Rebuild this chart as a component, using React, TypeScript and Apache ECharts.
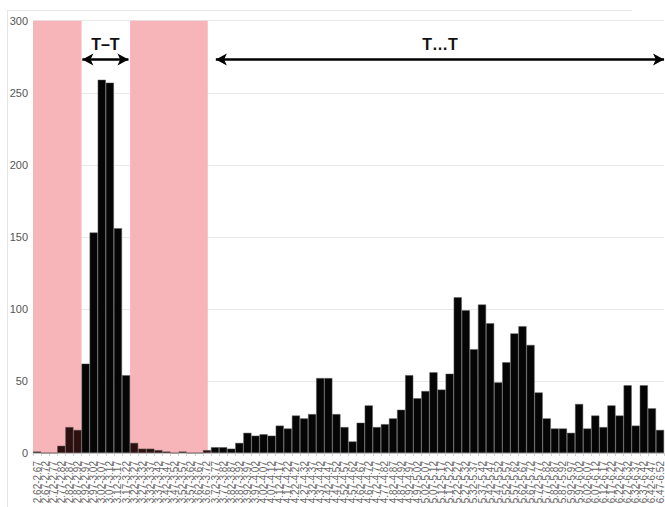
import React, { useEffect, useRef } from "react";
import * as echarts from "echarts";

// Histogram bins (width 0.05)
const categories: string[] = [
  "2.62-2.67", "2.67-2.72", "2.72-2.77", "2.77-2.82", "2.82-2.87", "2.87-2.92",
  "2.92-2.97", "2.97-3.02", "3.02-3.07", "3.07-3.12", "3.12-3.17", "3.17-3.22",
  "3.22-3.27", "3.27-3.32", "3.32-3.37", "3.37-3.42", "3.42-3.47", "3.47-3.52",
  "3.52-3.57", "3.57-3.62", "3.62-3.67", "3.67-3.72", "3.72-3.77", "3.77-3.82",
  "3.82-3.87", "3.87-3.92", "3.92-3.97", "3.97-4.02", "4.02-4.07", "4.07-4.12",
  "4.12-4.17", "4.17-4.22", "4.22-4.27", "4.27-4.32", "4.32-4.37", "4.37-4.42",
  "4.42-4.47", "4.47-4.52", "4.52-4.57", "4.57-4.62", "4.62-4.67", "4.67-4.72",
  "4.72-4.77", "4.77-4.82", "4.82-4.87", "4.87-4.92", "4.92-4.97", "4.97-5.02",
  "5.02-5.07", "5.07-5.12", "5.12-5.17", "5.17-5.22", "5.22-5.27", "5.27-5.32",
  "5.32-5.37", "5.37-5.42", "5.42-5.47", "5.47-5.52", "5.52-5.57", "5.57-5.62",
  "5.62-5.67", "5.67-5.72", "5.72-5.77", "5.77-5.82", "5.82-5.87", "5.87-5.92",
  "5.92-5.97", "5.97-6.02", "6.02-6.07", "6.07-6.12", "6.12-6.17", "6.17-6.22",
  "6.22-6.27", "6.27-6.32", "6.32-6.37", "6.37-6.42", "6.42-6.47", "6.47-6.52",
];

const counts: number[] = [
  1, 0, 0, 5, 18, 16, 62, 153, 259, 257, 156, 54,
  7, 3, 3, 2, 1, 0, 1, 0, 0, 2, 4, 4, 3, 7,
  14, 12, 13, 12, 19, 17, 26, 24, 27, 52, 52, 27,
  18, 8, 21, 33, 18, 20, 24, 30, 54, 38, 43, 56, 44, 55,
  108, 99, 72, 103, 90, 49, 63, 83, 88, 75, 42, 24,
  17, 17, 14, 34, 17, 26, 18, 33, 26, 47, 19, 47, 31, 16,
];

const yTicks: number[] = [0, 50, 100, 150, 200, 250, 300];

// Shaded (excluded) ranges on the continuous value scale
const shadedRanges: [number, number][] = [
  [2.62, 2.92],
  [3.22, 3.7],
];

// Double-headed range arrows: from, to, level, label
const rangeFrom: number[] = [2.925, 3.75];
const rangeTo: number[] = [3.21, 6.52];
const rangeLevel: number[] = [273, 273];
const rangeLabels: string[] = ["T–T", "T…T"];

const xMin = 2.62;
const xMax = 6.52;

function binCenter(cat: string): number {
  const [lo, hi] = cat.split("-").map(parseFloat);
  return (lo + hi) / 2;
}

function inShaded(v: number): boolean {
  return shadedRanges.some(([a, b]) => v >= a && v <= b);
}

export default function App() {
  const ref = useRef<HTMLDivElement>(null);

  useEffect(() => {
    if (!ref.current) return;
    const chart = echarts.init(ref.current, undefined, { renderer: "svg" });

    const barData = counts.map((v, i) => ({
      value: v,
      itemStyle: {
        color: inShaded(binCenter(categories[i])) ? "#2c1010" : "#050505",
      },
    }));

    chart.setOption({
      animation: false,
      backgroundColor: "#ffffff",
      grid: { left: 33, right: 0, top: 20.7, bottom: 54, containLabel: false },
      xAxis: [
        {
          type: "category",
          data: categories,
          boundaryGap: true,
          offset: 5,
          axisLine: { show: true, lineStyle: { color: "#cfcfcf", width: 1 } },
          axisTick: { show: true, length: 3, lineStyle: { color: "#cfcfcf" } },
          axisLabel: {
            rotate: 90,
            interval: 0,
            fontSize: 10,
            color: "#666",
            margin: 3,
            fontFamily: "Liberation Sans, Arial, sans-serif",
          },
          splitLine: { show: false },
        },
        {
          type: "value",
          min: xMin,
          max: xMax,
          show: false,
        },
      ],
      yAxis: {
        type: "value",
        min: yTicks[0],
        max: yTicks[yTicks.length - 1],
        interval: yTicks[1] - yTicks[0],
        axisLine: { show: false },
        axisTick: { show: false },
        axisLabel: {
          fontSize: 11,
          color: "#555",
          margin: 5,
          fontFamily: "Liberation Sans, Arial, sans-serif",
        },
        splitLine: { lineStyle: { color: "#e8e8e8", width: 1 } },
      },
      series: [
        {
          type: "line",
          xAxisIndex: 1,
          data: [],
          z: 1,
          silent: true,
          markArea: {
            silent: true,
            itemStyle: { color: "#f7b4b9", opacity: 1 },
            data: shadedRanges.map(([a, b]) => [
              { coord: [a, yTicks[0]] },
              { coord: [b, yTicks[yTicks.length - 1]] },
            ]),
          },
        },
        {
          type: "bar",
          data: barData,
          barCategoryGap: "0%",
          z: 2,
          itemStyle: { borderColor: "#5a5a5a", borderWidth: 0.5 },
        },
        {
          type: "line",
          xAxisIndex: 1,
          data: [],
          z: 5,
          silent: true,
          markLine: {
            silent: true,
            symbol: ["arrow", "arrow"],
            symbolSize: [9, 11],
            lineStyle: { color: "#000", width: 2.5, type: "solid" },
            label: {
              show: true,
              position: "middle",
              distance: 7,
              fontSize: 16,
              fontWeight: "bold",
              color: "#111",
              fontFamily: "Liberation Sans, Arial, sans-serif",
            },
            data: rangeFrom.map((from, i) => [
              {
                coord: [from, rangeLevel[i]],
                label: { formatter: rangeLabels[i] },
              },
              { coord: [rangeTo[i], rangeLevel[i]] },
            ]),
          },
        },
      ],
      graphic: [
        {
          type: "line",
          shape: { x1: 7, y1: 10.5, x2: 632, y2: 10.5 },
          style: { stroke: "#e6e6e6", lineWidth: 1 },
          silent: true,
        },
        {
          type: "line",
          shape: { x1: 7.5, y1: 10, x2: 7.5, y2: 507 },
          style: { stroke: "#e6e6e6", lineWidth: 1 },
          silent: true,
        },
      ],
    });

    return () => chart.dispose();
  }, []);

  return (
    <div
      ref={ref}
      style={{ position: "fixed", left: 0, top: 0, width: 665, height: 507 }}
    />
  );
}
